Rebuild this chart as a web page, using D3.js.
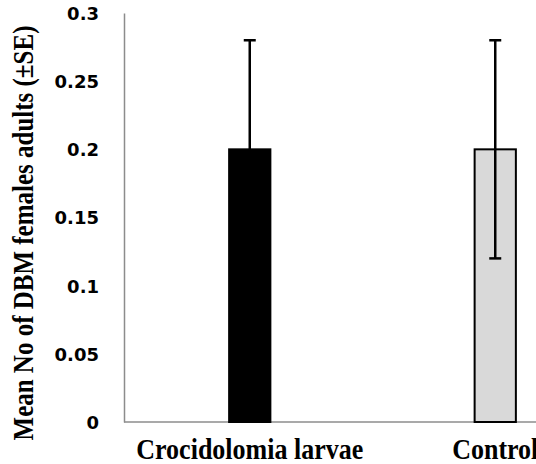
<!DOCTYPE html>
<html>
<head>
<meta charset="utf-8">
<script src="https://cdn.jsdelivr.net/npm/d3@7"></script>
<style>
  body { margin: 0; background: #fff; overflow: hidden; }
  .tick text { font-family: "DejaVu Sans", sans-serif; font-weight: bold; }
</style>
</head>
<body>
<script>
// data
const categories = ["Crocidolomia larvae", "Control"];
const means = [0.2, 0.2];
const errors = [0.08, 0.08];
const yTicks = [0, 0.05, 0.1, 0.15, 0.2, 0.25, 0.3];
const barColors = ["#000000", "#d9d9d9"];

const data = categories.map((c, i) => ({name: c, mean: means[i], se: errors[i], color: barColors[i]}));

const W = 536, H = 464;

const svg = d3.select("body").append("svg")
    .attr("width", W)
    .attr("height", H);

const x = d3.scaleBand()
    .domain(categories)
    .range([127, 618])
    .paddingInner(0.832)
    .paddingOuter(0.416);

const y = d3.scaleLinear()
    .domain([0, 0.3])
    .range([422, 13]);

// y axis, no tick marks
const yAxis = svg.append("g")
    .attr("transform", "translate(124,0)")
    .call(d3.axisLeft(y).tickValues(yTicks).tickSize(0).tickPadding(25)
        .tickFormat(d => d3.format("")(+d.toFixed(2))));
yAxis.select(".domain").attr("stroke", "#8c8c8c").attr("stroke-width", 1.5);
yAxis.selectAll(".tick text").attr("font-size", 18).attr("fill", "#000").attr("dy", "0.36em");

// baseline
svg.append("line")
    .attr("x1", 124).attr("x2", W)
    .attr("y1", y(0)).attr("y2", y(0))
    .attr("stroke", "#8c8c8c").attr("stroke-width", 1.5);

// bars
svg.selectAll("rect.bar")
    .data(data)
    .enter()
    .append("rect")
        .attr("class", "bar")
        .attr("x", d => x(d.name))
        .attr("width", x.bandwidth())
        .attr("y", d => y(d.mean))
        .attr("height", d => y(0) - y(d.mean))
        .attr("fill", d => d.color)
        .attr("stroke", "#000")
        .attr("stroke-width", 2);

// error bars
const eb = svg.selectAll("g.err")
    .data(data)
    .enter()
    .append("g")
        .attr("class", "err")
        .attr("stroke", "#000")
        .attr("stroke-width", 2.5);

eb.append("line")
    .attr("x1", d => x(d.name) + x.bandwidth() / 2)
    .attr("x2", d => x(d.name) + x.bandwidth() / 2)
    .attr("y1", d => y(d.mean - d.se))
    .attr("y2", d => y(d.mean + d.se));

eb.selectAll("line.cap")
    .data(d => [d.mean - d.se, d.mean + d.se].map(v => ({name: d.name, v: v})))
    .enter()
    .append("line")
        .attr("class", "cap")
        .attr("x1", d => x(d.name) + x.bandwidth() / 2 - 6)
        .attr("x2", d => x(d.name) + x.bandwidth() / 2 + 6)
        .attr("y1", d => y(d.v))
        .attr("y2", d => y(d.v));

// category labels
svg.selectAll("text.cat")
    .data(categories)
    .enter()
    .append("text")
        .attr("class", "cat")
        .attr("transform", d => "translate(" + (x(d) + x.bandwidth() / 2) + ",459) scale(1,1.1)")
        .attr("text-anchor", "middle")
        .attr("font-family", "'Liberation Serif', 'Times New Roman', serif")
        .attr("font-weight", "bold")
        .attr("font-size", 26)
        .text(d => d);

// y label, glyphs a bit stretched like the picture
svg.append("text")
    .attr("transform", "translate(33,233) rotate(-90) scale(1,1.22)")
    .attr("text-anchor", "middle")
    .attr("font-family", "'Liberation Serif', 'Times New Roman', serif")
    .attr("font-weight", "bold")
    .attr("font-size", 25)
    .text("Mean No of DBM females adults (±SE)");
</script>
</body>
</html>
